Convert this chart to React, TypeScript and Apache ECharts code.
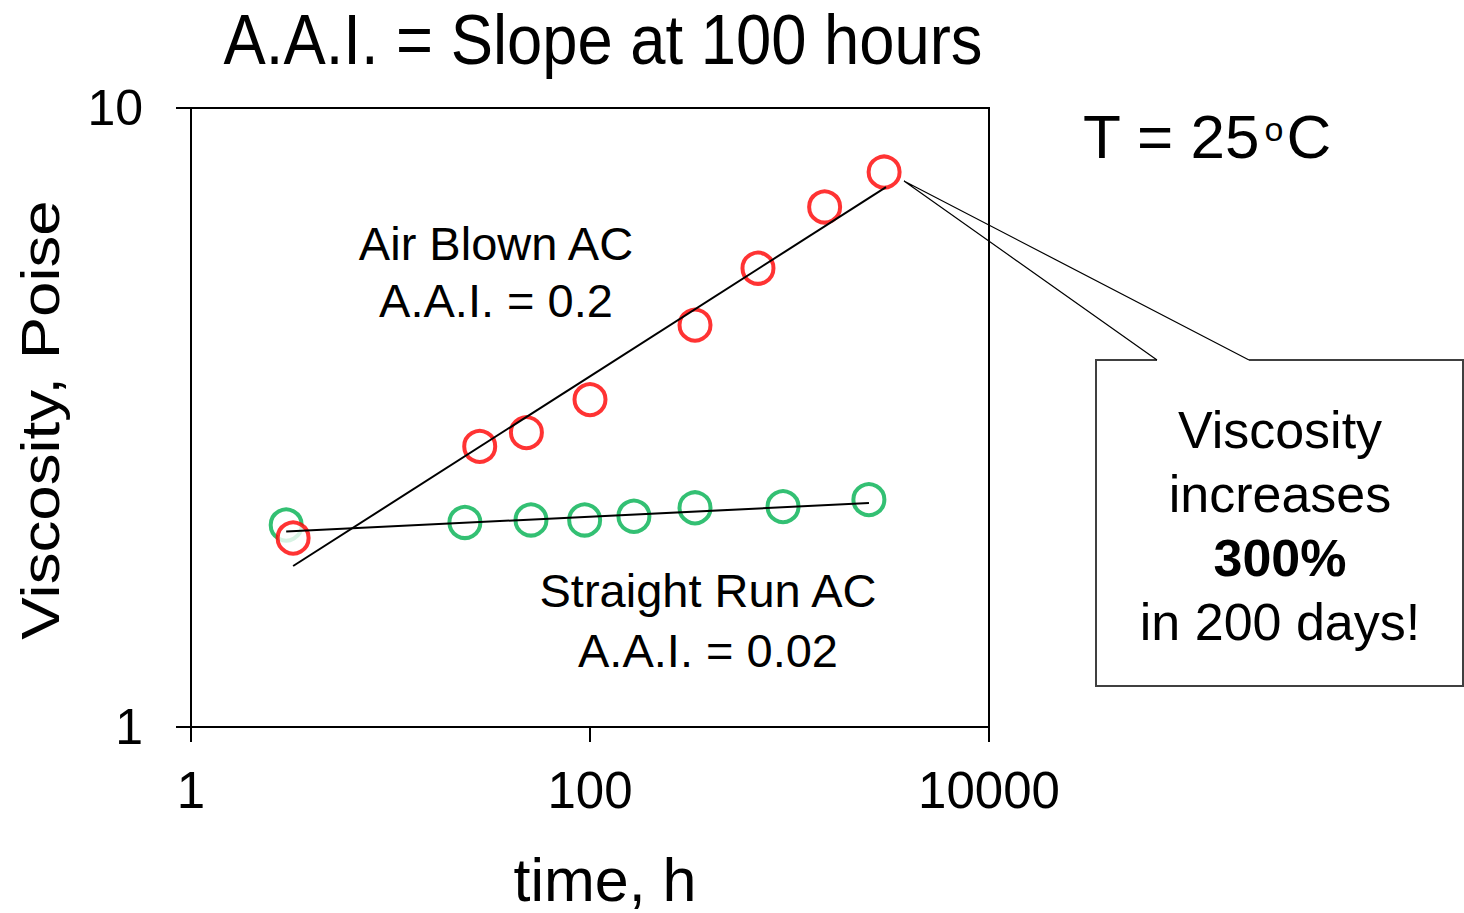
import React, { useEffect, useRef } from "react";
import * as echarts from "echarts";

// ---- data ----
const airBlownTime = [3.25, 28, 48, 100, 336, 695, 1500, 2980];
const airBlownVisc = [2.02, 2.84, 2.99, 3.38, 4.46, 5.51, 6.92, 7.88];
const straightRunTime = [3.0, 23.6, 50.6, 94, 166, 336, 928, 2500];
const straightRunVisc = [2.12, 2.14, 2.16, 2.16, 2.19, 2.26, 2.27, 2.33];
const airBlownFitTime = [3.25, 3046];
const airBlownFitVisc = [1.82, 7.45];
const straightRunFitTime = [3.0, 2502];
const straightRunFitVisc = [2.07, 2.3];
const xTicks = [1, 100, 10000];
const yTicks = [1, 10];

const FONT = "'Liberation Sans', Arial, sans-serif";
const pair = (xs: number[], ys: number[]) => xs.map((x, i) => [x, ys[i]]);

export default function App() {
  const ref = useRef<HTMLDivElement>(null);
  useEffect(() => {
    if (!ref.current) return;
    const chart = echarts.init(ref.current, undefined, { renderer: "svg" });
    chart.setOption({
      animation: false,
      backgroundColor: "#fff",
      textStyle: { fontFamily: FONT, color: "#000" },
      grid: {
        left: 191,
        right: 475,
        top: 108,
        bottom: 186,
        containLabel: false,
        outerBoundsMode: "none",
        show: true,
        borderColor: "#000",
        borderWidth: 2,
        backgroundColor: "transparent",
      },
      xAxis: {
        type: "log",
        logBase: 100,
        min: xTicks[0],
        max: xTicks[xTicks.length - 1],
        name: "time, h",
        nameLocation: "middle",
        nameGap: 122,
        nameTextStyle: { fontSize: 61, fontFamily: FONT, color: "#000", padding: [0, 0, 0, 30] },
        axisLine: { lineStyle: { color: "#000", width: 2 } },
        axisTick: { show: true, length: 15, lineStyle: { color: "#000", width: 2 } },
        minorTick: { show: false },
        splitLine: { show: false },
        axisLabel: {
          fontSize: 51,
          margin: 38,
          color: "#000",
          fontFamily: FONT,
          formatter: (v: number) => String(Math.round(v)),
        },
      },
      yAxis: {
        type: "log",
        logBase: 10,
        min: yTicks[0],
        max: yTicks[yTicks.length - 1],
        axisLine: { lineStyle: { color: "#000", width: 2 } },
        axisTick: { show: true, length: 15, lineStyle: { color: "#000", width: 2 } },
        splitLine: { show: false },
        axisLabel: {
          fontSize: 50,
          margin: 48,
          color: "#000",
          fontFamily: FONT,
          formatter: (v: number) => String(Math.round(v)),
        },
      },
      series: [
        {
          name: "Straight Run AC",
          type: "scatter",
          data: pair(straightRunTime, straightRunVisc),
          symbol: "circle",
          symbolSize: 31,
          itemStyle: { color: "#fff", borderColor: "#00b050", borderWidth: 4 },
          z: 2,
        },
        {
          name: "Air Blown AC",
          type: "scatter",
          data: pair(airBlownTime, airBlownVisc),
          symbol: "circle",
          symbolSize: 31,
          itemStyle: { color: "#fff", borderColor: "#ff0000", borderWidth: 4 },
          z: 3,
        },
        {
          name: "Air Blown fit",
          type: "line",
          data: pair(airBlownFitTime, airBlownFitVisc),
          showSymbol: false,
          symbol: "none",
          lineStyle: { color: "#000", width: 2 },
          z: 4,
        },
        {
          name: "Straight Run fit",
          type: "line",
          data: pair(straightRunFitTime, straightRunFitVisc),
          showSymbol: false,
          symbol: "none",
          lineStyle: { color: "#000", width: 2 },
          z: 4,
        },
      ],
      graphic: [
        {
          type: "text",
          x: 603,
          y: 40,
          scaleX: 0.905,
          style: {
            text: "A.A.I. = Slope at 100 hours",
            fontSize: 70,
            fontFamily: FONT,
            fill: "#000",
            textAlign: "center",
            textVerticalAlign: "middle",
          },
        },
        {
          type: "text",
          x: 40,
          y: 420,
          rotation: Math.PI / 2,
          scaleX: 1.2,
          style: {
            text: "Viscosity, Poise",
            fontSize: 53,
            fontFamily: FONT,
            fill: "#000",
            textAlign: "center",
            textVerticalAlign: "middle",
          },
        },
        {
          type: "text",
          x: 1083,
          y: 136,
          style: {
            text: "{a|T = 25}{b|o}{a|C}",
            fontFamily: FONT,
            fill: "#000",
            textAlign: "left",
            textVerticalAlign: "middle",
            rich: {
              a: { fontSize: 62, lineHeight: 62, fontFamily: FONT, verticalAlign: "middle" },
              b: { fontSize: 34, fontFamily: FONT, verticalAlign: "top", padding: [7, 3, 0, 4] },
            },
          },
        },
        {
          type: "text",
          x: 496,
          y: 272,
          style: {
            text: "Air Blown AC\nA.A.I. = 0.2",
            fontSize: 47,
            lineHeight: 57,
            fontFamily: FONT,
            fill: "#000",
            textAlign: "center",
            textVerticalAlign: "middle",
          },
        },
        {
          type: "text",
          x: 708,
          y: 620,
          style: {
            text: "Straight Run AC\nA.A.I. = 0.02",
            fontSize: 47,
            lineHeight: 60,
            fontFamily: FONT,
            fill: "#000",
            textAlign: "center",
            textVerticalAlign: "middle",
          },
        },
        {
          type: "rect",
          shape: { x: 1096, y: 360, width: 367, height: 326 },
          style: { fill: "#fff", stroke: "none" },
          z: 10,
        },
        {
          type: "polyline",
          shape: {
            points: [
              [1157, 360],
              [1096, 360],
              [1096, 686],
              [1463, 686],
              [1463, 360],
              [1249, 360],
            ],
          },
          style: { stroke: "#404040", lineWidth: 2, fill: "none" },
          z: 11,
        },
        {
          type: "polyline",
          shape: {
            points: [
              [1157, 360],
              [904, 181],
              [1249, 360],
            ],
          },
          style: { stroke: "#000", lineWidth: 1.2, fill: "none" },
          z: 11,
        },
        {
          type: "text",
          x: 1280,
          y: 526,
          z: 12,
          style: {
            text: "Viscosity\nincreases\n{b|300%}\nin 200 days!",
            fontSize: 52,
            lineHeight: 64,
            fontFamily: FONT,
            fill: "#000",
            textAlign: "center",
            textVerticalAlign: "middle",
            rich: {
              b: { fontSize: 52, lineHeight: 64, fontWeight: "bold", fontFamily: FONT },
            },
          },
        },
      ],
    });
    return () => chart.dispose();
  }, []);
  return (
    <div
      ref={ref}
      style={{ position: "absolute", left: 0, top: 0, width: 1464, height: 913 }}
    />
  );
}
